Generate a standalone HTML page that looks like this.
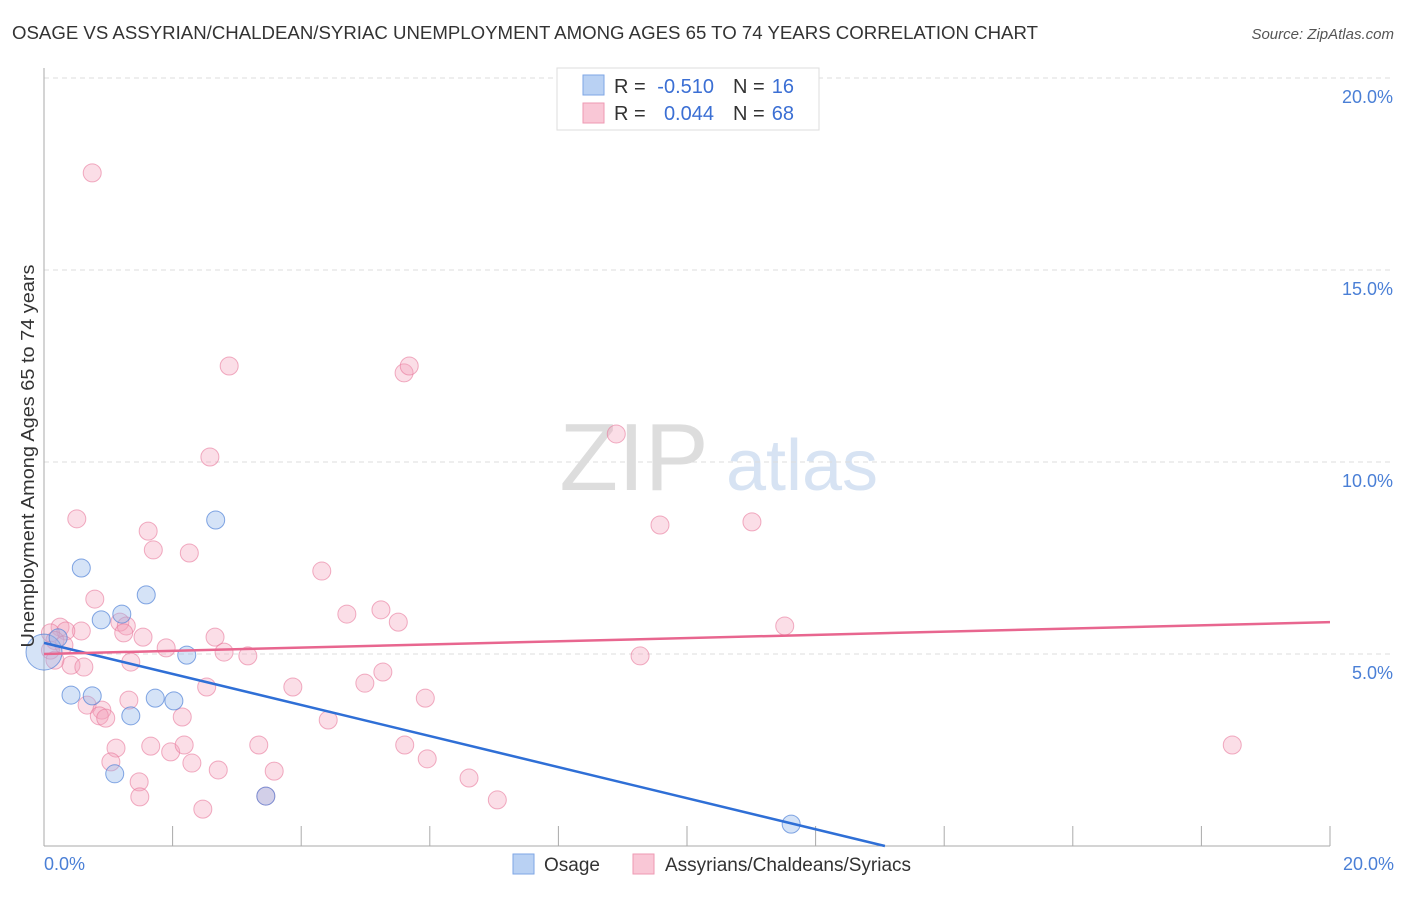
<!DOCTYPE html>
<html><head><meta charset="utf-8"><style>
body{margin:0;background:#fff;font-family:"Liberation Sans",sans-serif;}
svg text{font-family:"Liberation Sans",sans-serif;}
</style></head><body>
<svg id="chart" width="1406" height="892" xmlns="http://www.w3.org/2000/svg">
<text x="12" y="39" font-size="18" fill="#333" textLength="1026" lengthAdjust="spacingAndGlyphs">OSAGE VS ASSYRIAN/CHALDEAN/SYRIAC UNEMPLOYMENT AMONG AGES 65 TO 74 YEARS CORRELATION CHART</text>
<text x="1394" y="39" font-size="15" fill="#555" text-anchor="end" font-style="italic">Source: ZipAtlas.com</text>
<g>
<text x="634" y="490" font-size="96" fill="#ddd" text-anchor="middle" font-family="Liberation Serif">ZIP</text>
<text x="802" y="490" font-size="72" fill="#d7e3f3" text-anchor="middle">atlas</text>
</g>
<g id="grid"></g>
<g id="axes"></g>
<g id="points"></g>
<g id="lines"></g>
<text transform="translate(34,456) rotate(-90)" font-size="18" fill="#333" text-anchor="middle" textLength="383" lengthAdjust="spacingAndGlyphs">Unemployment Among Ages 65 to 74 years</text>
<text x="44" y="870" font-size="18" fill="#4a7fd6">0.0%</text>
<text x="1394" y="870" font-size="18" fill="#4a7fd6" text-anchor="end">20.0%</text>
<g>
<rect x="557" y="68" width="262" height="62" fill="#fff" stroke="#ddd"/>
<rect x="583" y="75" width="21" height="20" fill="#b9d1f3" stroke="#7ea6e6"/>
<text x="614" y="93" font-size="20" fill="#333">R =</text>
<text x="714" y="93" font-size="20" fill="#3b6fd4" text-anchor="end">-0.510</text>
<text x="733" y="93" font-size="20" fill="#333">N =</text>
<text x="794" y="93" font-size="20" fill="#3b6fd4" text-anchor="end">16</text>
<rect x="583" y="103" width="21" height="20" fill="#f9c7d6" stroke="#ee9ab3"/>
<text x="614" y="120" font-size="20" fill="#333">R =</text>
<text x="714" y="120" font-size="20" fill="#3b6fd4" text-anchor="end">0.044</text>
<text x="733" y="120" font-size="20" fill="#333">N =</text>
<text x="794" y="120" font-size="20" fill="#3b6fd4" text-anchor="end">68</text>
</g>
<g>
<rect x="513" y="854" width="21" height="20" fill="#b9d1f3" stroke="#7ea6e6"/>
<text x="544" y="871" font-size="19" fill="#333">Osage</text>
<rect x="633" y="854" width="21" height="20" fill="#f9c7d6" stroke="#ee9ab3"/>
<text x="665" y="871" font-size="19" fill="#333">Assyrians/Chaldeans/Syriacs</text>
</g>
</svg>
<script>
const yTicks=[5,10,15,20];
const yTickLabels=["5.0%","10.0%","15.0%","20.0%"];
const osageX=[0,0.22,0.58,0.89,1.21,1.59,2.67,2.22,0.42,0.75,1.35,1.73,2.02,1.10,3.45,11.62];
const osageY=[5.05,5.42,7.24,5.89,6.04,6.54,8.49,4.97,3.93,3.91,3.39,3.85,3.78,1.88,1.30,0.57];
const assyX=[0.75,2.88,5.60,5.68,8.90,2.58,0.51,1.62,1.70,2.26,9.58,11.01,4.32,0.79,4.71,5.24,5.51,11.52,1.18,1.28,1.24,1.54,0.58,0.25,0.34,0.1,0.17,0.31,2.66,1.90,2.80,3.17,9.27,0.42,0.62,1.35,2.53,3.87,4.99,5.27,5.93,1.32,0.67,0.9,0.86,0.96,2.15,4.42,1.12,1.66,1.97,2.18,3.34,5.61,18.48,1.04,2.30,2.71,3.58,5.96,1.48,6.61,1.49,3.45,7.05,2.47,0.1,0.17];
const assyY=[17.53,12.5,12.32,12.5,10.73,10.13,8.52,8.2,7.71,7.63,8.36,8.44,7.16,6.43,6.04,6.15,5.83,5.73,5.83,5.73,5.55,5.44,5.6,5.7,5.6,5.55,5.35,5.23,5.44,5.16,5.05,4.95,4.95,4.71,4.66,4.79,4.14,4.14,4.24,4.53,3.85,3.8,3.67,3.54,3.39,3.33,3.36,3.28,2.55,2.6,2.45,2.63,2.63,2.63,2.63,2.19,2.16,1.98,1.95,2.27,1.67,1.77,1.28,1.30,1.2,0.96,5.1,4.84];
const osageTrend=[5.29,-2.8];   // y at x=0 and x=20 (clipped at y=0)
const assyTrend=[5.0,5.83];
const NS="http://www.w3.org/2000/svg";
const X0=44,X1=1330,Y0=846,Y20=78;
const sx=v=>X0+(v/20)*(X1-X0);
const sy=v=>Y0-(v/20)*(Y0-Y20);
function mk(t,a,p){const e=document.createElementNS(NS,t);for(const k in a)e.setAttribute(k,a[k]);p.appendChild(e);return e;}
const grid=document.getElementById('grid'),axes=document.getElementById('axes'),pts=document.getElementById('points'),lines=document.getElementById('lines');
yTicks.forEach((t,i)=>{
 const g=mk('line',{x1:X0,x2:1394,y1:sy(t),y2:sy(t),stroke:'#ddd','stroke-dasharray':'5,4'},grid);
 
 
 const l=mk('text',{x:1393,y:sy(t)+25,'font-size':18,fill:'#4a7fd6','text-anchor':'end'},grid);
 l.textContent=yTickLabels[i];
 
 
});
const ya=mk('line',{x1:X0,x2:X0,y1:68,y2:Y0,stroke:'#aaa'},axes);


const xa=mk('line',{x1:X0,x2:X1,y1:Y0,y2:Y0,stroke:'#aaa'},axes);


for(let i=1;i<=10;i++){const t=mk('line',{x1:sx(i*2),x2:sx(i*2),y1:826,y2:Y0,stroke:'#aaa'},axes);
 
 }
assyX.forEach((x,i)=>{const c=mk('circle',{cx:sx(x),cy:sy(assyY[i]),r:9,fill:'rgba(244,160,186,0.35)',stroke:'rgba(232,120,155,0.6)'},pts);
 
 });
osageX.forEach((x,i)=>{const c=mk('circle',{cx:sx(x),cy:sy(osageY[i]),r:i==0?18:9,fill:'rgba(150,185,235,0.4)',stroke:'rgba(80,130,215,0.7)'},pts);
 
 });
const xe=osageTrend[0]/(osageTrend[0]-osageTrend[1])*20;
const bl=mk('line',{x1:sx(0),y1:sy(osageTrend[0]),x2:sx(xe),y2:sy(0),stroke:'#2f6fd6','stroke-width':2.5},lines);


const pl=mk('line',{x1:sx(0),y1:sy(assyTrend[0]),x2:sx(20),y2:sy(assyTrend[1]),stroke:'#e8668f','stroke-width':2.5},lines);


</script>
</body></html>
